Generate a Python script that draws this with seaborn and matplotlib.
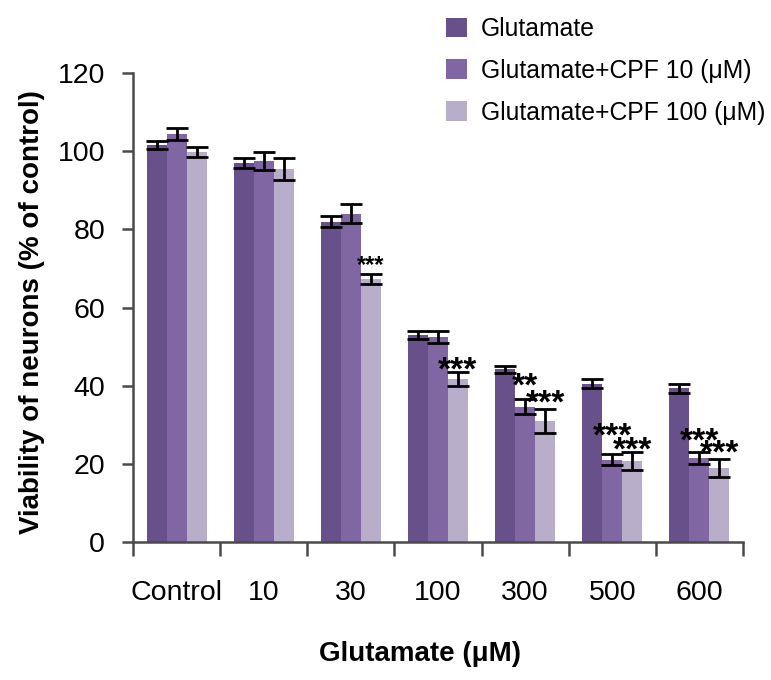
import matplotlib
matplotlib.use("Agg")
import matplotlib.pyplot as plt
import seaborn as sns
import pandas as pd
import numpy as np

# ---- data ----
groups = ["Control", "10", "30", "100", "300", "500", "600"]
series = ["Glutamate", "Glutamate+CPF 10 (\u03bcM)", "Glutamate+CPF 100 (\u03bcM)"]
glu = [101.5, 97.0, 82.0, 53.0, 44.2, 40.5, 39.3]
glu_err = [1.0, 1.2, 1.5, 1.0, 0.9, 1.2, 1.1]
cpf10 = [104.3, 97.5, 84.0, 52.5, 34.6, 21.0, 21.5]
cpf10_err = [1.5, 2.2, 2.5, 1.6, 1.9, 1.4, 1.6]
cpf100 = [99.8, 95.5, 67.3, 41.7, 31.0, 20.8, 19.0]
cpf100_err = [1.2, 2.8, 1.3, 1.7, 3.0, 2.3, 2.3]
# significance marks: (group index, series index, label, star centre in data units)
marks = [(2, 2, "***", 72.4), (3, 2, "***", 46.4), (4, 1, "**", 42.3),
         (4, 2, "***", 37.9), (5, 1, "***", 29.5), (5, 2, "***", 25.9),
         (6, 1, "***", 28.2), (6, 2, "***", 25.1)]
y_ticks = [0, 20, 40, 60, 80, 100, 120]
colors = ["#68508a", "#8166a4", "#b9aeca"]

values = [glu, cpf10, cpf100]
errs = [glu_err, cpf10_err, cpf100_err]
df = pd.DataFrame({
    "group": [g for s in series for g in groups],
    "series": [s for s in series for g in groups],
    "value": [v for vals in values for v in vals],
})

sns.set_style("white")
plt.rcParams["font.family"] = ["Liberation Sans", "DejaVu Sans"]
plt.rcParams["text.color"] = "black"
plt.rcParams["axes.labelcolor"] = "black"
plt.rcParams["xtick.color"] = "black"
plt.rcParams["ytick.color"] = "black"

fig = plt.figure(figsize=(7.71, 6.8), dpi=100)
ax = fig.add_axes([133 / 771, 1 - 542 / 680, 610 / 771, 469 / 680])

sns.barplot(data=df, x="group", y="value", hue="series", order=groups,
            hue_order=series, palette=colors, errorbar=None, width=0.69,
            linewidth=0, saturation=1, ax=ax)

# error bars at bar centres
for cont, e in zip(ax.containers, errs):
    xs = [p.get_x() + p.get_width() / 2 for p in cont.patches]
    hs = [p.get_height() for p in cont.patches]
    ax.errorbar(xs, hs, yerr=e, fmt="none", ecolor="black", elinewidth=2.0,
                capsize=8, capthick=2.0, zorder=5)

# significance stars
for gi, si, lab, yc in marks:
    p = ax.containers[si].patches[gi]
    xc = p.get_x() + p.get_width() / 2
    fs = 17 if gi == 2 else 24
    ax.annotate(lab, (xc, yc), xytext=(0, -0.56 * fs), textcoords="offset points",
                ha="center", va="baseline", fontsize=fs, fontweight="bold",
                color="black", zorder=6)

ax.set_ylim(0, 120)
ax.set_xlim(-0.5, len(groups) - 0.5)
ax.set_yticks(y_ticks)
ax.set_xticks(range(len(groups)))
ax.set_xticks(np.arange(-0.5, len(groups), 1.0), minor=True)
ax.tick_params(axis="x", which="major", length=0, pad=27, labelsize=20.5, labelcolor="black")
ax.tick_params(axis="x", which="minor", length=10, width=1.8, color="#4a4a4a", bottom=True)
ax.tick_params(axis="y", length=8, width=1.8, color="#4a4a4a", pad=12, labelsize=20.5,
               left=True, labelcolor="black")

for s in ["top", "right"]:
    ax.spines[s].set_visible(False)
for s in ["left", "bottom"]:
    ax.spines[s].set_color("#4a4a4a")
    ax.spines[s].set_linewidth(1.8)

ax.set_xlabel("Glutamate (\u03bcM)", fontsize=20, fontweight="bold", color="black")
ax.set_ylabel("Viability of neurons (% of control)", fontsize=20, fontweight="bold",
              color="black")
ax.xaxis.set_label_coords((420 - 133) / 610, -0.212)
ax.yaxis.set_label_coords(-0.145, 0.491)

handles, labels = ax.get_legend_handles_labels()
ax.get_legend().remove()
fig.legend(handles, labels, loc="upper left", bbox_to_anchor=(446 / 771, 1 - 17 / 680),
           frameon=False, fontsize=17.8, handlelength=0.85, handleheight=0.85,
           handletextpad=0.55, labelspacing=0.72, borderpad=0, borderaxespad=0)

fig.savefig("out.png", dpi=100)
